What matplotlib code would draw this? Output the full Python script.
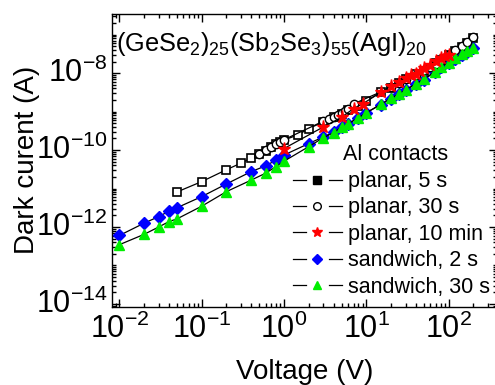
import numpy as np
import matplotlib
matplotlib.use("Agg")
import matplotlib.pyplot as plt
from matplotlib.lines import Line2D
from matplotlib.legend_handler import HandlerBase
from matplotlib.ticker import LogLocator, NullFormatter, FixedLocator
from matplotlib.transforms import ScaledTranslation

plt.rcParams['font.family'] = ['Liberation Sans', 'DejaVu Sans']
plt.rcParams['mathtext.fontset'] = 'custom'
plt.rcParams['mathtext.rm'] = 'Liberation Sans'
plt.rcParams['mathtext.it'] = 'Liberation Sans'
plt.rcParams['mathtext.default'] = 'regular'

# ---------------- data (log10 of current) ----------------
v_p5 = [0.05, 0.1, 0.2, 0.3, 0.4, 0.5, 0.6, 0.7, 0.8, 0.9, 1.0, 1.5, 2, 3, 4, 5, 6, 8, 10,
        15, 20, 25, 30, 40, 50, 70, 80, 100, 120, 145, 165, 200]
i_p5 = [-11.09, -10.82, -10.51, -10.34, -10.21, -10.10, -10.02, -9.91, -9.85, -9.79, -9.74,
        -9.60, -9.44, -9.27, -9.15, -9.06, -8.97, -8.85, -8.72,
        -8.50, -8.38, -8.25, -8.16, -8.03, -7.95, -7.74, -7.65, -7.54, -7.42, -7.31, -7.22, -7.08]

v_p30 = [0.5, 0.6, 0.7, 0.8, 0.9, 1.0, 3, 3.5, 4, 4.5, 5, 5.5, 6, 7, 20, 25, 30, 40, 50,
         60, 70, 80, 100, 120, 145, 165, 200]
i_p30 = [-10.09, -10.00, -9.92, -9.85, -9.79, -9.73, -9.25, -9.19, -9.14, -9.09, -9.03, -8.98,
         -8.93, -8.80, -8.37, -8.26, -8.16, -8.04, -7.93, -7.83, -7.75, -7.66, -7.54, -7.40,
         -7.29, -7.20, -7.05]

v_p10 = [1, 3, 5, 7, 9, 15, 20, 25, 30, 35, 40, 45, 50, 60, 70, 80, 90, 100]
i_p10 = [-9.96, -9.40, -9.15, -8.92, -8.80, -8.50, -8.33, -8.23, -8.12, -8.06, -8.01, -7.94,
         -7.86, -7.78, -7.69, -7.61, -7.56, -7.52]

v_s2 = [0.01, 0.02, 0.03, 0.04, 0.05, 0.1, 0.2, 0.4, 0.6, 0.8, 1.0, 2, 3, 4, 5, 6, 8, 10,
        15, 20, 25, 30, 40, 50, 68, 80, 100, 120, 145, 165, 200]
i_s2 = [-12.22, -11.90, -11.73, -11.59, -11.50, -11.21, -10.88, -10.56, -10.41, -10.26, -10.13,
        -9.83, -9.66, -9.53, -9.40, -9.32, -9.16, -9.03,
        -8.82, -8.66, -8.55, -8.44, -8.29, -8.17, -7.97, -7.85, -7.74, -7.62, -7.52, -7.44, -7.35]

v_s30 = [0.01, 0.02, 0.03, 0.04, 0.05, 0.1, 0.2, 0.4, 0.6, 0.8, 1.0, 2, 3, 4, 5, 6, 8, 10,
         15, 20, 25, 30, 40, 50, 68, 80, 100, 120, 145, 165, 200]
i_s30 = [-12.46, -12.19, -12.00, -11.86, -11.79, -11.46, -11.08, -10.78, -10.60, -10.43, -10.29,
         -9.91, -9.68, -9.55, -9.40, -9.32, -9.16, -9.03,
         -8.81, -8.65, -8.54, -8.43, -8.28, -8.16, -7.96, -7.84, -7.73, -7.61, -7.51, -7.43, -7.34]

labels = ['planar, 5 s', 'planar, 30 s', 'planar, 10 min', 'sandwich, 2 s', 'sandwich, 30 s']
legend_title = 'Al contacts'


class GapHandler(HandlerBase):
    """line - marker - line, with small gaps around the marker (Origin style)."""
    def create_artists(self, legend, orig_handle, xdescent, ydescent, width, height,
                       fontsize, trans):
        y = height / 2.0 - ydescent
        x0 = -xdescent
        x1 = x0 + width
        xm = (x0 + x1) / 2.0
        g = fontsize * 0.55
        l1 = Line2D([x0, xm - g], [y, y], color='black', lw=0.9)
        l2 = Line2D([xm + g, x1], [y, y], color='black', lw=0.9)
        m = Line2D([xm], [y], ls='none', marker=orig_handle.get_marker(),
                   ms=orig_handle.get_markersize(), mfc=orig_handle.get_markerfacecolor(),
                   mec=orig_handle.get_markeredgecolor(), mew=orig_handle.get_markeredgewidth())
        for a in (l1, l2, m):
            a.set_transform(trans)
        return [l1, l2, m]


# ---------------- figure ----------------
fig = plt.figure(figsize=(4.95, 3.85), dpi=100)
ax = fig.add_axes([112/495, (385-307)/385, (497-112)/495, (307-13.5)/385])

ms = 6.5
ax.plot(v_p5, 10**np.array(i_p5), '-', color='black', lw=0.9, marker='s', ms=ms - 0.5,
        mfc='white', mec='black', mew=1.2, zorder=3)
ax.plot(v_p30, 10**np.array(i_p30), '-', color='black', lw=0.9, marker='o', ms=ms - 0.5,
        mfc='white', mec='black', mew=1.0, zorder=4)
ax.plot(v_p10, 10**np.array(i_p10), '-', color='black', lw=0.9, marker='*', ms=ms + 3,
        mfc='red', mec='red', zorder=5)
ax.plot(v_s2, 10**np.array(i_s2), '-', color='black', lw=0.9, marker='D', ms=ms - 0.5,
        mfc='blue', mec='blue', zorder=3)
ax.plot(v_s30, 10**np.array(i_s30), '-', color='black', lw=0.9, marker='^', ms=ms + 0.5,
        mfc='#00ee00', mec='#00ee00', zorder=4)

ax.set_xscale('log')
ax.set_yscale('log')
ax.set_xlim(10**-2.09, 10**2.588)
ax.set_ylim(10**-14.08, 10**-6.45)

ax.yaxis.set_major_locator(FixedLocator([1e-14, 1e-12, 1e-10, 1e-8]))
ax.yaxis.set_minor_locator(LogLocator(base=10, subs=np.arange(1, 10), numticks=30))
ax.yaxis.set_minor_formatter(NullFormatter())
ax.xaxis.set_major_locator(LogLocator(base=10, numticks=10))
ax.xaxis.set_minor_locator(LogLocator(base=10, subs=np.arange(2, 10), numticks=30))
ax.xaxis.set_minor_formatter(NullFormatter())

ax.tick_params(which='both', direction='in', top=True, right=True, labelsize=22, width=1)
ax.tick_params(which='major', length=6)
ax.tick_params(which='minor', length=3)
ax.tick_params(axis='x', pad=5)
ax.tick_params(axis='y', pad=3)
for s in ax.spines.values():
    s.set_linewidth(1.0)

ax.set_xlabel('Voltage (V)', fontsize=20, labelpad=10)
ax.set_ylabel('Dark curent (A)', fontsize=20, labelpad=-3)

# nudge y tick labels up slightly (Origin centres the base "10" on the tick)
shift = ScaledTranslation(0, 3 / 100, fig.dpi_scale_trans)
for t in ax.yaxis.get_major_ticks():
    t.label1.set_transform(t.label1.get_transform() + shift)

ax.text(0.01, 0.945, r'(GeSe$_{2}$)$_{25}$(Sb$_{2}$Se$_{3}$)$_{55}$(AgI)$_{20}$',
        transform=ax.transAxes, fontsize=18.3, ha='left', va='top')

fig.text(343/495, 1 - 155/385, legend_title, fontsize=15.5, ha='left', va='center')

handles = [
    Line2D([], [], color='black', lw=0.9, marker='s', ms=ms - 1, mfc='black', mec='black'),
    Line2D([], [], color='black', lw=0.9, marker='o', ms=ms - 1, mfc='white', mec='black'),
    Line2D([], [], color='black', lw=0.9, marker='*', ms=ms + 1, mfc='red', mec='red'),
    Line2D([], [], color='black', lw=0.9, marker='D', ms=ms - 1.5, mfc='blue', mec='blue'),
    Line2D([], [], color='black', lw=0.9, marker='^', ms=ms - 0.5, mfc='#00ee00', mec='#00ee00'),
]
leg = ax.legend(handles, labels, loc='upper left', bbox_to_anchor=(0.470, 0.463),
                frameon=False, fontsize=15.5,
                handlelength=2.28, handletextpad=0.28, labelspacing=0.25, borderaxespad=0,
                borderpad=0, handler_map={Line2D: GapHandler()})

fig.savefig('out.png', dpi=100)
